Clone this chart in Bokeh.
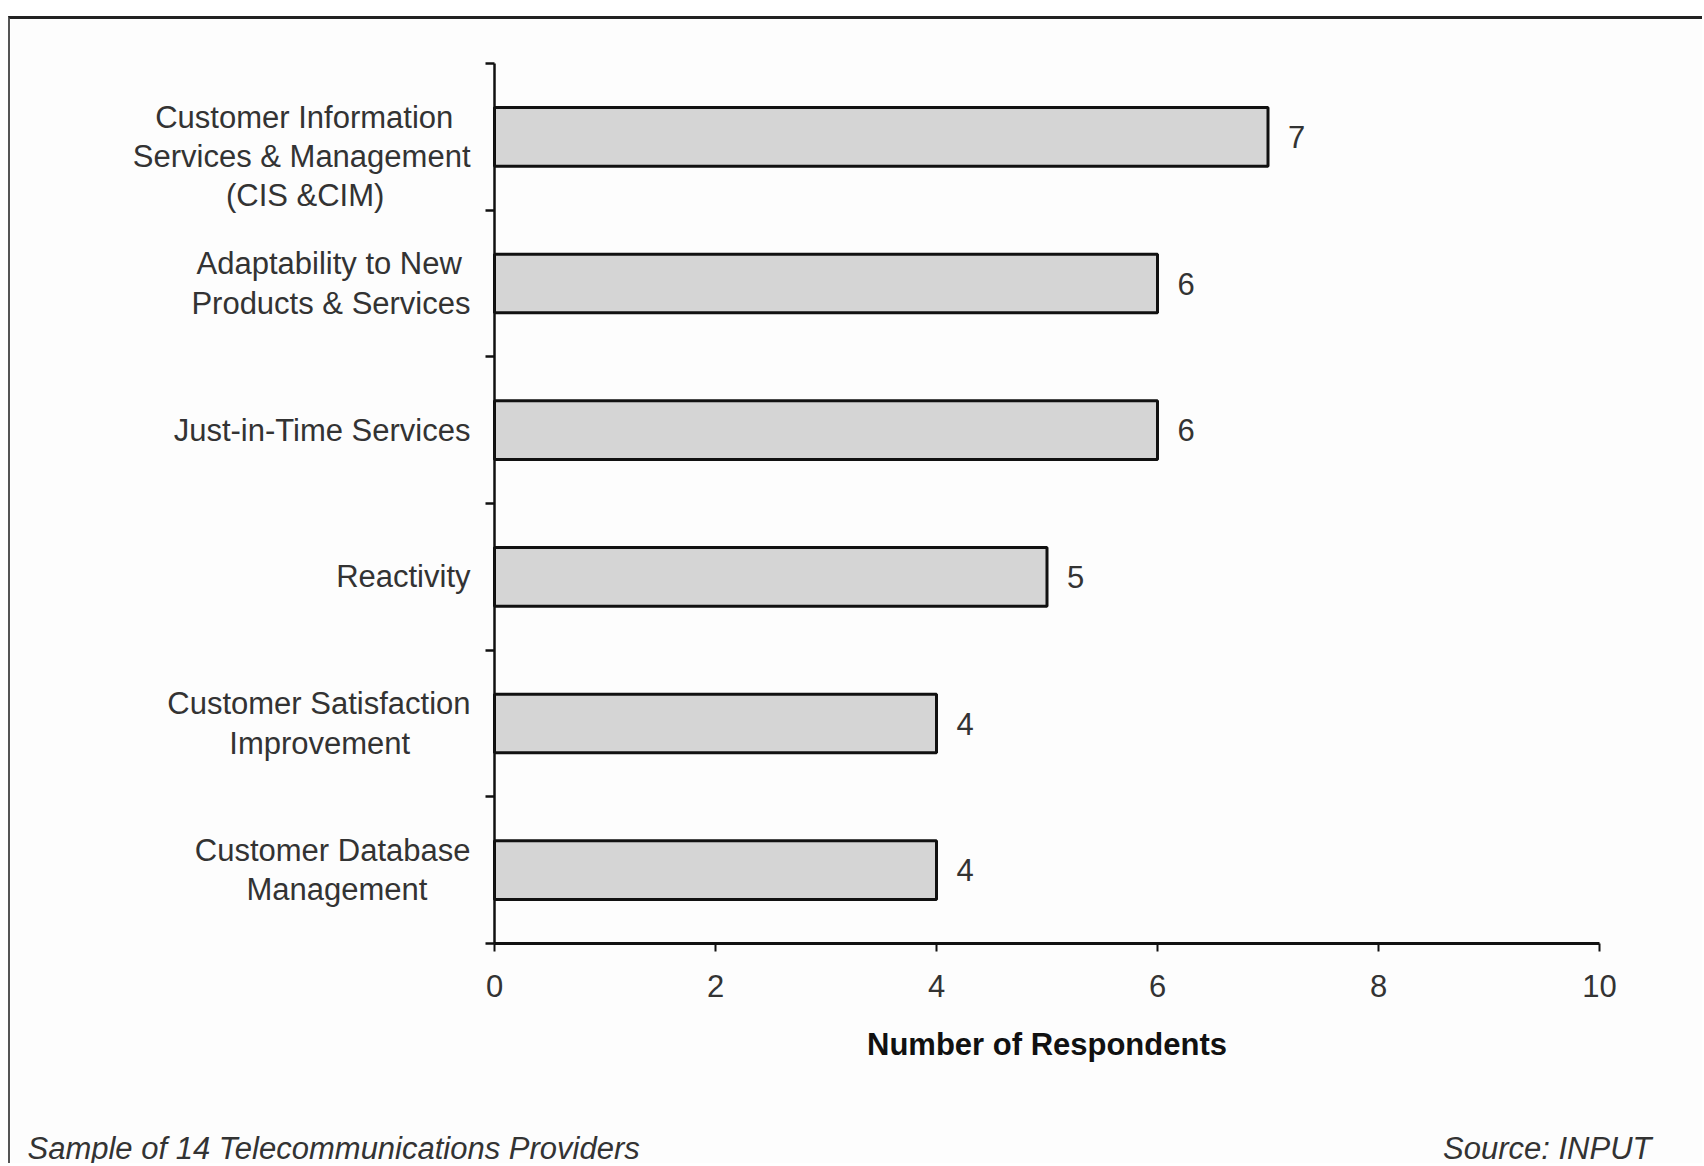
from bokeh.plotting import figure
from bokeh.models import Range1d, FixedTicker, ColumnDataSource, LinearAxis
from bokeh.core.properties import value
from bokeh.embed import file_html
from bokeh.resources import INLINE

# ---- data (top to bottom as in the chart) ----
categories = [
    "Customer Information\nServices & Management\n(CIS &CIM)",
    "Adaptability to New\nProducts & Services",
    "Just-in-Time Services",
    "Reactivity",
    "Customer Satisfaction\nImprovement",
    "Customer Database\nManagement",
]
respondents = [7, 6, 6, 5, 4, 4]
x_ticks = [0, 2, 4, 6, 8, 10]
x_max = 10
x_label = "Number of Respondents"
note_left = "Sample of 14 Telecommunications Providers"
note_right = "Source: INPUT"

FONT = "Liberation Sans"
TXT = "#333333"
FS = "31px"
BG = "#fdfdfd"

# ---- layout in canvas pixels (canvas = whole plotting frame) ----
W, H = 1694, 1147
AX_L, AX_R = 484, 1589      # x = 0 and x = x_max
AX_T, AX_B = 44, 924        # top of category axis, x axis
n = len(categories)
sx = (AX_R - AX_L) / x_max
sy = (AX_B - AX_T) / n


def px_x(px):
    return (px - AX_L) / sx


def px_y(px_from_top):
    return (AX_B - px_from_top) / sy


# approximate Arial/Liberation Sans advance widths (1/1000 em) used to centre
# the lines of each multi-line tick label within its right-aligned block
_W = {" ": 278, "&": 667, "(": 333, ")": 333, "-": 333,
      "A": 667, "C": 722, "D": 722, "I": 278, "J": 500, "M": 833, "N": 722,
      "P": 667, "R": 722, "S": 667, "T": 611}
_W.update({c: 556 for c in "abdeghnopqu"})
_W.update({c: 500 for c in "cksvxyz"})
_W.update({"f": 278, "t": 278, "i": 222, "j": 222, "l": 222, "m": 833,
           "r": 333, "w": 722})


def _width(s):
    return sum(_W.get(ch, 556) for ch in s)


def centred(label):
    lines = label.split("\n")
    mw = max(_width(l) for l in lines)
    out = [l + "\u00a0" * round((mw - _width(l)) / 2 / 278) for l in lines]
    if len(lines) >= 3:          # tall label sits lower, as in the original
        out = ["\u00a0"] + out
    return "\n".join(out)


ypos = [n - i - 0.5 for i in range(n)]
src = ColumnDataSource(dict(y=ypos, v=respondents, lab=[str(v) for v in respondents]))

p = figure(
    width=W, height=H, title=None,
    x_range=Range1d(px_x(0), px_x(W)), y_range=Range1d(px_y(H), px_y(0)),
    x_axis_type=None, y_axis_type=None,
    output_backend="svg", toolbar_location=None,
    min_border_left=0, min_border_right=0, min_border_top=0, min_border_bottom=0,
    background_fill_color=BG, border_fill_color=BG,
    outline_line_color=None,
    styles={"margin-top": "16px", "margin-left": "8px",
            "border-top": "3px solid #222", "border-left": "2px solid #555"},
)
p.grid.visible = False

p.hbar(y="y", right="v", left=0, height=0.4, source=src,
       fill_color="#d5d5d5", line_color="#111111", line_width=3)

p.text(x="v", y="y", text="lab", source=src, x_offset=20,
       text_baseline="middle", text_align="left",
       text_font=value(FONT), text_font_size=FS, text_color=TXT)

# x axis, pinned at y = 0
xa = LinearAxis(fixed_location=0, bounds=(0, x_max))
xa.ticker = FixedTicker(ticks=x_ticks)
xa.axis_line_width = 3
xa.axis_line_color = "#111111"
xa.major_tick_line_width = 2
xa.major_tick_line_color = "#111111"
xa.major_tick_out = 8
xa.major_tick_in = 0
xa.minor_tick_line_color = None
xa.major_label_text_font = FONT
xa.major_label_text_font_size = FS
xa.major_label_text_color = TXT
xa.major_label_standoff = 23
xa.axis_label = x_label
xa.axis_label_text_font = FONT
xa.axis_label_text_font_style = "bold"
xa.axis_label_text_font_size = FS
xa.axis_label_text_color = "#111111"
xa.axis_label_standoff = 27
p.add_layout(xa, "below")

# category axis, pinned at x = 0: boundary ticks as minor ticks, labels at band centres
ya = LinearAxis(fixed_location=0, bounds=(0, n))
ya.ticker = FixedTicker(ticks=ypos, minor_ticks=list(range(n + 1)))
ya.major_label_overrides = {y: centred(c) for y, c in zip(ypos, categories)}
ya.axis_line_width = 2.5
ya.axis_line_color = "#111111"
ya.major_tick_line_color = None
ya.major_tick_out = 0
ya.major_tick_in = 0
ya.minor_tick_line_width = 2.5
ya.minor_tick_line_color = "#111111"
ya.minor_tick_out = 9
ya.minor_tick_in = 0
ya.major_label_text_font = FONT
ya.major_label_text_font_size = FS
ya.major_label_text_color = TXT
ya.major_label_standoff = 15
ya.major_label_text_line_height = 1.12
p.add_layout(ya, "left")

# footnotes
notes = ColumnDataSource(dict(x=[px_x(17), px_x(1641)], y=[px_y(H - 18)] * 2,
                              t=[note_left, note_right], a=["left", "right"]))
p.text(x="x", y="y", text="t", text_align="a", source=notes,
       text_baseline="alphabetic", text_font=value(FONT), text_font_size=FS,
       text_font_style="italic", text_color=TXT)

open("out.html", "w").write(file_html(p, INLINE))
